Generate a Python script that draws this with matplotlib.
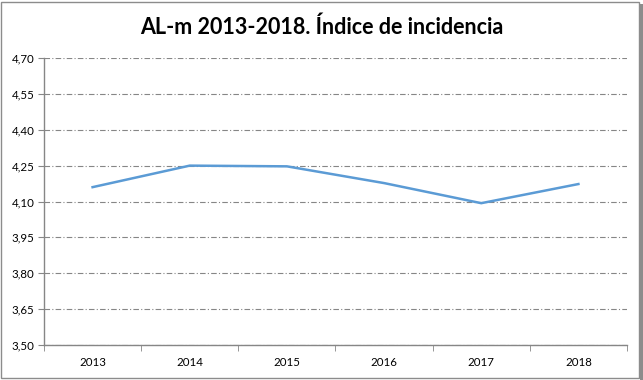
import matplotlib
matplotlib.use("Agg")
import matplotlib.pyplot as plt
from matplotlib.patches import Rectangle
from matplotlib.ticker import FixedLocator, FuncFormatter

years = ["2013", "2014", "2015", "2016", "2017", "2018"]
indice = [4.16, 4.25, 4.247, 4.177, 4.093, 4.173]
y_ticks = [3.50, 3.65, 3.80, 3.95, 4.10, 4.25, 4.40, 4.55, 4.70]

plt.rcParams['font.family'] = ['Lato', 'DejaVu Sans']

fig = plt.figure(figsize=(6.43, 3.80), dpi=100)
ax = fig.add_axes([44 / 643, 35 / 380, 583 / 643, 287 / 380])

x = list(range(len(years)))
ax.plot(x, indice, color='#5b9bd5', linewidth=1.8, solid_joinstyle='miter')

ax.set_xlim(-0.5, len(years) - 0.5)
ax.set_ylim(3.50, 4.70)
ax.set_yticks(y_ticks)
ax.yaxis.set_major_formatter(FuncFormatter(lambda v, p: f"{v:.2f}".replace('.', ',')))
ax.set_xticks(x)
ax.set_xticklabels(years)
ax.xaxis.set_minor_locator(FixedLocator([i - 0.5 for i in range(len(years) + 1)]))
ax.tick_params(axis='x', which='major', length=0, labelsize=8.3, pad=9)
ax.tick_params(axis='x', which='minor', length=4, color='#868686')
ax.tick_params(axis='y', length=4, color='#868686', labelsize=8.3, pad=3)

ax.grid(axis='y', color='#868686', linestyle=(0, (5, 2, 1, 2)), linewidth=0.8)
ax.set_axisbelow(True)
for s in ['top', 'right']:
    ax.spines[s].set_visible(False)
for s in ['left', 'bottom']:
    ax.spines[s].set_color('#868686')
    ax.spines[s].set_linewidth(1.0)

fig.text(0.5, 0.928, "AL-m 2013-2018. Índice de incidencia", ha='center', va='center',
         fontsize=15.5, fontweight='bold')

# chart frame with shadow on the right
fig.add_artist(Rectangle((1 / 643, 2 / 380), 638 / 643, 376 / 380, transform=fig.transFigure,
                         fill=False, edgecolor='#8c8c8c', linewidth=1.0))
fig.add_artist(Rectangle((639.5 / 643, 0), 3 / 643, 376 / 380, transform=fig.transFigure,
                         facecolor='#8c8c8c', edgecolor='none'))

fig.savefig("out.png", dpi=100)
